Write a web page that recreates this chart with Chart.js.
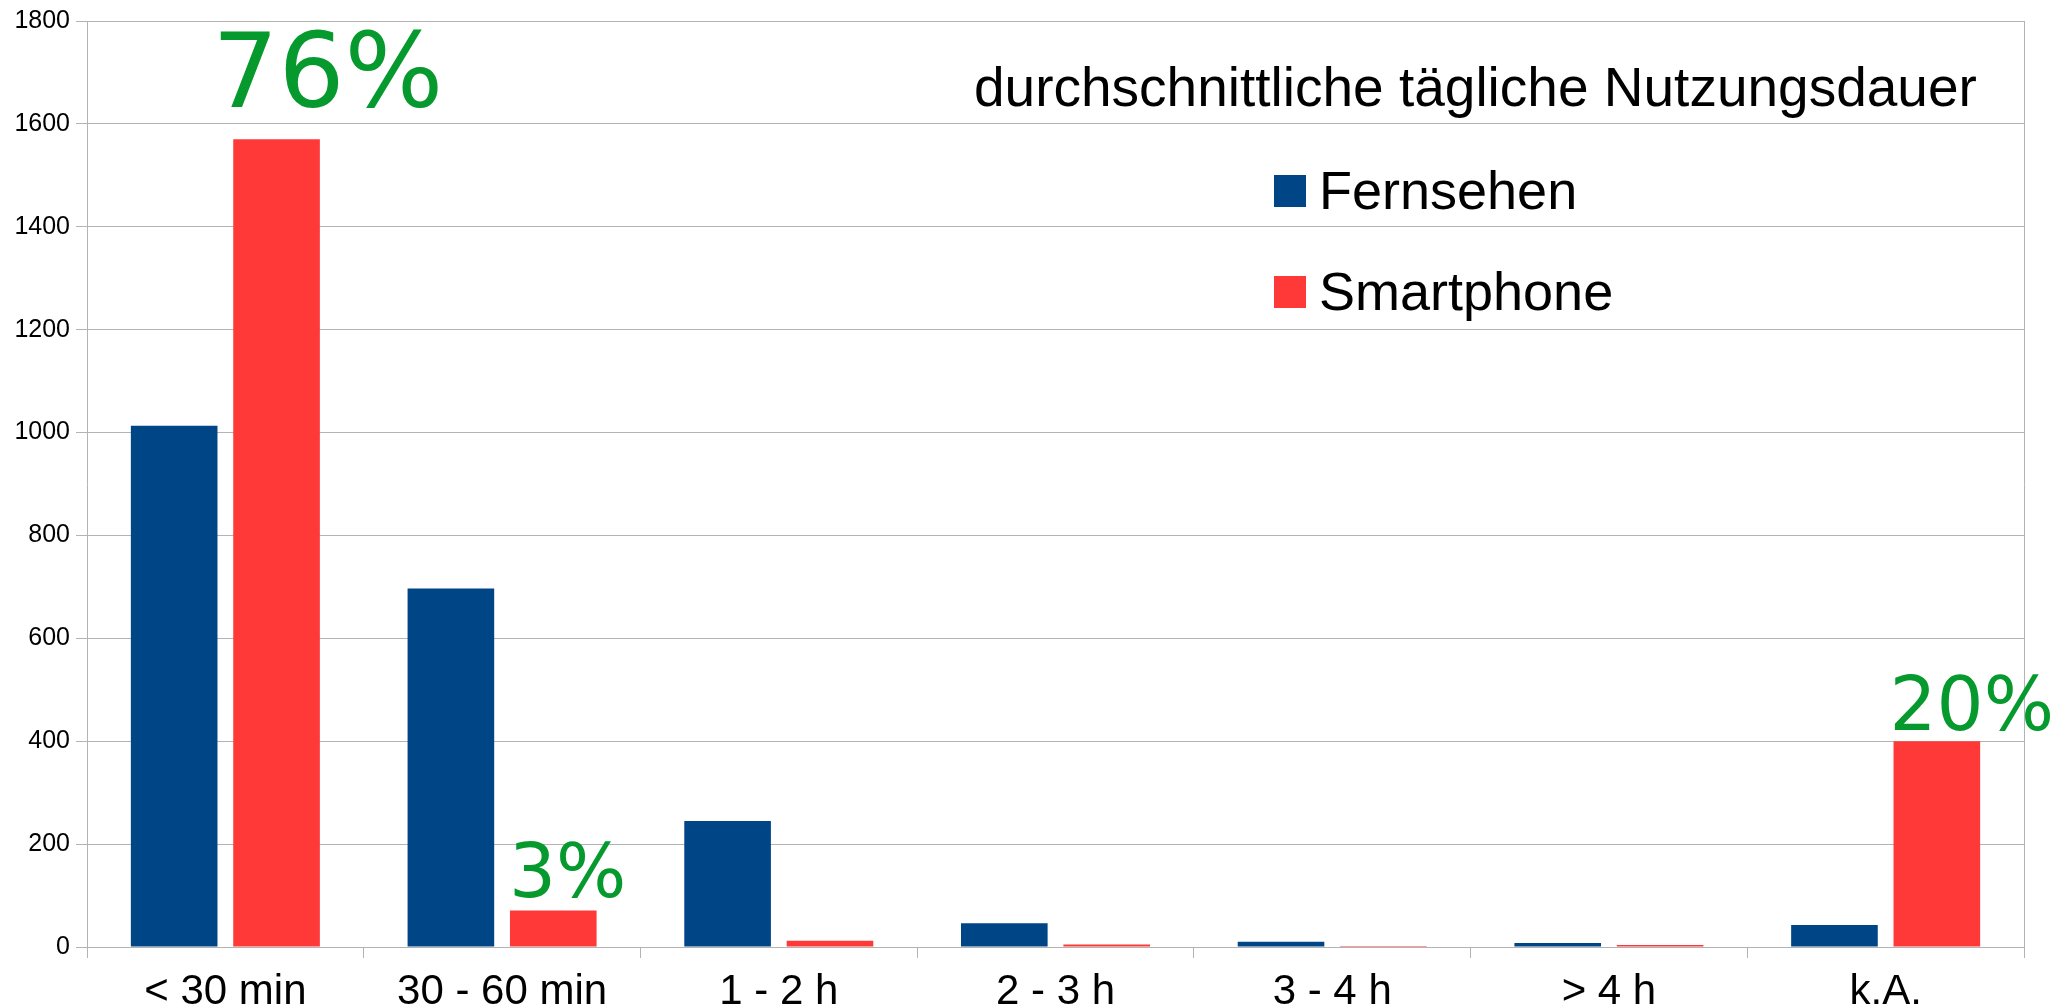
<!DOCTYPE html>
<html>
<head>
<meta charset="utf-8">
<script src="https://cdn.jsdelivr.net/npm/chart.js@4/dist/chart.umd.min.js"></script>
<style>
  html, body { margin: 0; padding: 0; background: #ffffff; }
  canvas { display: block; }
</style>
</head>
<body>
<canvas id="c" width="2059" height="1008"></canvas>
<script>
// ---- data ----
const categories = ['< 30 min', '30 - 60 min', '1 - 2 h', '2 - 3 h', '3 - 4 h', '> 4 h', 'k.A.'];
const fernsehen  = [1013, 697, 245, 46, 10, 8, 43];
const smartphone = [1570, 71, 12, 5, 2, 4, 400];
const seriesNames = ['Fernsehen', 'Smartphone'];
const yTicks = [0, 200, 400, 600, 800, 1000, 1200, 1400, 1600, 1800];
const chartTitle = 'durchschnittliche tägliche Nutzungsdauer';
const annotationTexts = ['76%', '3%', '20%'];
const annotationCategories = [0, 1, 6];

// ---- styles ----
const BLUE = '#004586';
const RED = '#ff3838';
const GREEN = '#069a2e';
const GRID = '#b3b3b3';
const FONT = '"Liberation Sans", Arial, sans-serif';

const overlayPlugin = {
  id: 'overlay',
  afterDraw(chart, args, opts) {
    const ctx = chart.ctx;
    ctx.save();
    // title
    ctx.fillStyle = '#000';
    ctx.font = '55px ' + FONT;
    ctx.textBaseline = 'alphabetic';
    ctx.textAlign = 'left';
    ctx.fillText(chartTitle, opts.titleX, opts.titleY);
    // legend
    chart.data.datasets.forEach((ds, i) => {
      const y = opts.legendY + i * opts.legendStep;
      ctx.fillStyle = ds.backgroundColor;
      ctx.fillRect(opts.legendX, y - opts.box, opts.box, opts.box);
      ctx.fillStyle = '#000';
      ctx.font = '54px ' + FONT;
      ctx.fillText(ds.label, opts.legendX + opts.box + 13, y + 2);
    });
    // annotations anchored to Smartphone bars
    const meta = chart.getDatasetMeta(1);
    annotationTexts.forEach((t, k) => {
      const bar = meta.data[annotationCategories[k]];
      const left = bar.x - bar.width / 2;
      const o = opts.annot[k];
      ctx.fillStyle = GREEN;
      ctx.font = o.size + 'px "DejaVu Sans", sans-serif';
      ctx.textAlign = 'left';
      ctx.textBaseline = 'alphabetic';
      ctx.fillText(t, left + o.dx, bar.y - o.dy);
    });
    ctx.restore();
  }
};

new Chart(document.getElementById('c'), {
  type: 'bar',
  data: {
    labels: categories,
    datasets: [
      { label: seriesNames[0], data: fernsehen, backgroundColor: BLUE, borderWidth: 0 },
      { label: seriesNames[1], data: smartphone, backgroundColor: RED, borderWidth: 0 }
    ]
  },
  options: {
    responsive: false,
    animation: false,
    devicePixelRatio: 1,
    layout: { padding: { top: 21, right: 35, left: 0, bottom: 0 } },
    datasets: { bar: { categoryPercentage: 0.74, barPercentage: 0.846 } },
    plugins: {
      legend: { display: false },
      title: { display: false },
      tooltip: { enabled: false },
      overlay: {
        titleX: 974, titleY: 106,
        legendX: 1274, legendY: 207, legendStep: 101, box: 32,
        annot: [
          { size: 104, dx: -21, dy: 32 },
          { size: 74, dx: -1, dy: 13 },
          { size: 74, dx: -4, dy: 11 }
        ]
      }
    },
    scales: {
      x: {
        offset: true,
        grid: { display: true, drawOnChartArea: false, drawTicks: true, tickLength: 11, tickColor: GRID, color: GRID, offset: true },
        border: { display: true, color: GRID, width: 1 },
        ticks: { color: '#000', font: { family: FONT, size: 42 }, padding: 9, maxRotation: 0, autoSkip: false },
        afterFit: s => { s.height = 61; }
      },
      y: {
        min: 0, max: 1800,
        afterBuildTicks: s => { s.ticks = yTicks.map(v => ({ value: v })); },
        grid: { color: GRID, tickLength: 11, tickColor: GRID, drawTicks: true },
        border: { display: true, color: GRID, width: 1 },
        ticks: { color: '#000', font: { family: FONT, size: 25 }, padding: 6, callback: v => String(v) },
        afterFit: s => { s.width = 87; }
      },
      y2: {
        position: 'right',
        min: 0, max: 1800,
        grid: { display: false, drawOnChartArea: false, drawTicks: false },
        border: { display: true, color: GRID, width: 1 },
        ticks: { display: false },
        afterFit: s => { s.width = 0; }
      }
    }
  },
  plugins: [overlayPlugin]
});
</script>
</body>
</html>
